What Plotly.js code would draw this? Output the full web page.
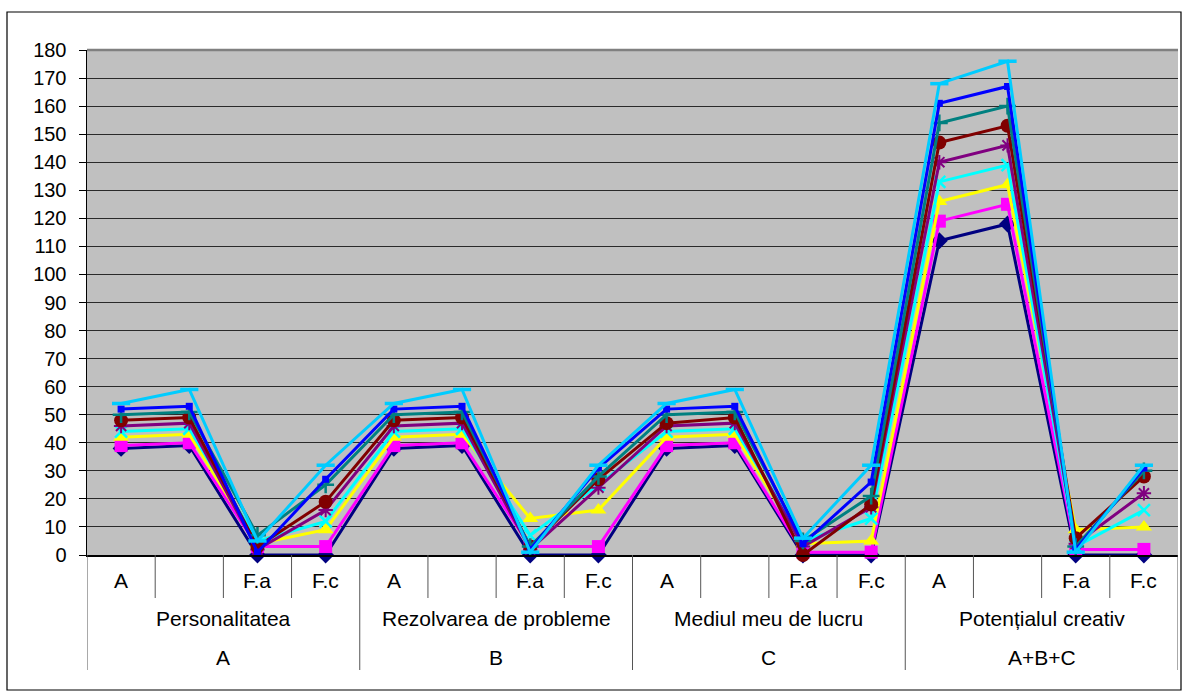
<!DOCTYPE html>
<html>
<head>
<meta charset="utf-8">
<script src="https://cdn.plot.ly/plotly-3.0.1.min.js"></script>
<style>
html,body{margin:0;padding:0;background:#fff;}
#chart{width:1182px;height:699px;}
</style>
</head>
<body>
<div id="chart"></div>
<script>
// ---- data ----
const subLabels = ["A", "", "F.a", "F.c", "A", "", "F.a", "F.c", "A", "", "F.a", "F.c", "A", "", "F.a", "F.c"];
const groupLabels = ["Personalitatea", "Rezolvarea de probleme", "Mediul meu de lucru", "Potențialul creativ"];
const groupCodes = ["A", "B", "C", "A+B+C"];

const s1 = [38, 39, 0, 0, 38, 39, 0, 0, 38, 39, 0, 0, 112, 118, 0, 0];
const s2 = [39, 40, 3, 3, 39, 40, 3, 3, 39, 40, 1, 1, 119, 125, 2, 2];
const s3 = [42, 43, 4, 9, 42, 43, 13, 16, 42, 43, 4, 5, 126, 132, 9, 10];
const s4 = [44, 45, 5, 12, 44, 45, 7, 25, 44, 45, 5, 13, 133, 139, 3, 16];
const s5 = [46, 47, 2, 16, 46, 47, 2, 24, 46, 47, 3, 17, 140, 146, 4, 22];
const s6 = [48, 49, 3, 19, 48, 49, 3, 27, 47, 49, 0, 18, 147, 153, 6, 28];
const s7 = [50, 51, 7, 25, 50, 51, 3, 28, 50, 51, 5, 21, 154, 160, 3, 30];
const s8 = [52, 53, 1, 27, 52, 53, 2, 31, 52, 53, 4, 26, 161, 167, 2, 31];
const s9 = [54, 59, 5, 32, 54, 59, 1, 32, 54, 59, 6, 32, 168, 176, 1, 32];

const xs = subLabels.map((_, i) => i);

function tr(y, color, symbol, size, open, mlw) {
  const m = {symbol: symbol, size: size, color: color};
  if (open) m.line = {color: color, width: mlw || 2};
  else m.line = {width: 0};
  return {x: xs, y: y, type: 'scatter', mode: 'lines+markers',
          line: {color: color, width: 3}, marker: m, cliponaxis: false};
}

const traces = [
  tr(s1, '#000080', 'diamond', 13),
  tr(s2, '#FF00FF', 'square', 13),
  tr(s3, '#FFFF00', 'triangle-up', 14),
  tr(s4, '#00FFFF', 'x-thin-open', 12, true, 2.5),
  tr(s5, '#800080', 'asterisk-open', 12, true, 2),
  tr(s6, '#800000', 'circle', 14),
  tr(s7, '#008080', 'cross-thin-open', 12, true, 2.5),
  tr(s8, '#0000FF', 'square', 7),
  tr(s9, '#00CCFF', 'line-ew-open', 13, true, 3.5)
];

// ---- layout helpers ----
const plotTop = 50, plotBottom = 555, plotH = 505, plotL = 87, plotW = 1091;
const py = p => (plotBottom - p) / plotH;
const px = p => (p - plotL) / plotW;

const shapes = [];
// outer border
shapes.push({type: 'rect', xref: 'paper', yref: 'paper', x0: px(7), x1: px(1181), y0: py(690), y1: py(12),
             line: {color: '#000', width: 1.2}, fillcolor: 'rgba(0,0,0,0)', layer: 'below'});
// top plot border (gray)
shapes.push({type: 'line', xref: 'paper', yref: 'paper', x0: 0, x1: 1, y0: 1, y1: 1,
             line: {color: '#808080', width: 2.5}});
// category separators
for (let k = 0; k <= subLabels.length; k++) {
  const isGroup = (k % 4 === 0);
  shapes.push({type: 'line', xref: 'x', yref: 'paper', x0: k - 0.5, x1: k - 0.5,
               y0: 0, y1: isGroup ? py(670) : py(598),
               line: {color: '#555', width: 1}});
}

const annotations = [];
const fnt = {family: 'Liberation Sans, Arial, sans-serif', size: 20, color: '#000'};
const cfnt = {family: 'Liberation Sans, Arial, sans-serif', size: 21, color: '#000'};
subLabels.forEach((t, i) => {
  if (t) annotations.push({x: i, y: py(580), xref: 'x', yref: 'paper', text: t, showarrow: false,
                           xanchor: 'center', yanchor: 'middle', font: cfnt});
});
groupLabels.forEach((t, g) => {
  annotations.push({x: g * 4 + 1.5, y: py(618), xref: 'x', yref: 'paper', text: t, showarrow: false,
                    xanchor: 'center', yanchor: 'middle', font: cfnt});
});
groupCodes.forEach((t, g) => {
  annotations.push({x: g * 4 + 1.5, y: py(657), xref: 'x', yref: 'paper', text: t, showarrow: false,
                    xanchor: 'center', yanchor: 'middle', font: cfnt});
});

const layout = {
  width: 1182, height: 699,
  margin: {l: plotL, r: 1182 - plotL - plotW, t: plotTop, b: 699 - plotBottom},
  paper_bgcolor: '#fff',
  plot_bgcolor: '#C0C0C0',
  showlegend: false,
  hovermode: false,
  font: fnt,
  xaxis: {range: [-0.5, subLabels.length - 0.5], showticklabels: false, ticks: '', showgrid: false,
          zeroline: false, showline: true, linecolor: '#000', linewidth: 1.5, fixedrange: true},
  yaxis: {range: [0, 180], dtick: 10, tick0: 0, showgrid: true, gridcolor: '#2a2a2a', gridwidth: 1,
          zeroline: false, showline: true, linecolor: '#000', linewidth: 1.5,
          ticks: 'outside', ticklen: 7, tickcolor: '#000', tickwidth: 1,
          tickfont: fnt, ticklabelstandoff: 8, fixedrange: true},
  shapes: shapes,
  annotations: annotations
};

Plotly.newPlot('chart', traces, layout, {staticPlot: true, displayModeBar: false});
</script>
</body>
</html>
